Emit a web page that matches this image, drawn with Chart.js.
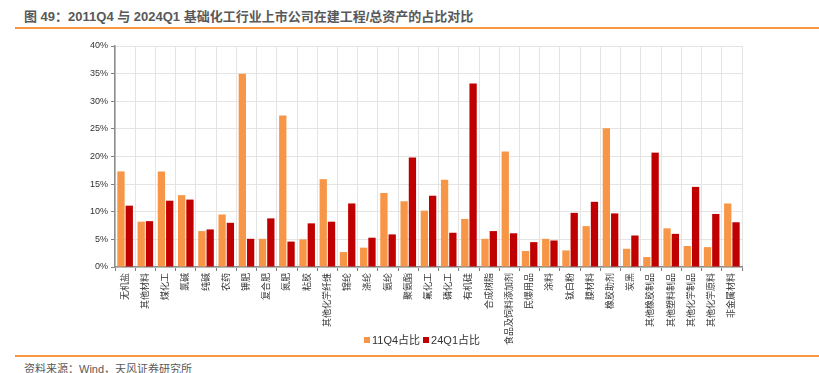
<!DOCTYPE html>
<html>
<head>
<meta charset="utf-8">
<script src="https://cdn.jsdelivr.net/npm/chart.js@4.4.1/dist/chart.umd.min.js"></script>
<style>
  html, body { margin: 0; padding: 0; background: #fff; }
  body { width: 819px; height: 373px; position: relative; overflow: hidden;
         font-family: "Liberation Sans", Arial, "Noto Sans CJK SC", sans-serif; }
  .title { position: absolute; left: 24px; top: 6px; font-size: 13px; font-weight: bold; color: #595959; white-space: nowrap; }
  .rule { position: absolute; left: 15px; right: 0; height: 2px; background: #F7963E; }
  .source { position: absolute; left: 24px; top: 360px; font-size: 11px; color: #595959; white-space: nowrap; }
  .wrap { position: absolute; left: 0; top: 36px; width: 819px; height: 316px; }
  .legend { position: absolute; left: 364px; top: 332px; font-size: 11px; color: #333; white-space: nowrap; line-height: 16px; }
  .legend span.box { display: inline-block; width: 6px; height: 6px; margin-right: 2px; vertical-align: 1px; }
  .legend span.item { margin-right: 3px; }
</style>
</head>
<body>
<div class="title">图 49：2011Q4 与 2024Q1 基础化工行业上市公司在建工程/总资产的占比对比</div>
<div class="rule" style="top:27px"></div>
<div class="wrap"><canvas id="chart"></canvas></div>
<div class="legend" id="legend"></div>
<div class="rule" style="top:355px"></div>
<div class="source">资料来源：Wind，天风证券研究所</div>

<script>
// ============================================
// DATA
// ============================================
const categories = [
    '无机盐', '其他材料', '煤化工', '氯碱', '纯碱', '农药', '钾肥', '复合肥', '氮肥', '粘胶',
    '其他化学纤维', '锦纶', '涤纶', '氨纶', '聚氨酯', '氟化工', '磷化工', '有机硅', '合成树脂',
    '食品及饲料添加剂', '民爆用品', '涂料', '钛白粉', '膜材料', '橡胶助剂', '炭黑',
    '其他橡胶制品', '其他塑料制品', '其他化学制品', '其他化学原料', '非金属材料'
];

const seriesNames = ['11Q4占比', '24Q1占比'];
const seriesColors = ['#F79646', '#C00000'];

// percent values
const share11Q4 = [
    17.3, 8.2, 17.3, 13.0, 6.5, 9.5, 35.0, 5.1, 27.4, 5.0,
    15.9, 2.7, 3.5, 13.4, 11.9, 10.2, 15.8, 8.7, 5.1,
    20.9, 2.9, 5.1, 3.0, 7.4, 25.1, 3.3,
    1.8, 7.0, 3.8, 3.6, 11.5
];

const share24Q1 = [
    11.1, 8.3, 12.0, 12.2, 6.8, 8.0, 5.1, 8.8, 4.6, 7.9,
    8.2, 11.5, 5.3, 5.9, 19.8, 12.9, 6.2, 33.2, 6.5,
    6.1, 4.5, 4.8, 9.8, 11.8, 9.7, 5.7,
    20.7, 6.0, 14.5, 9.6, 8.1
];

const yTicks = [0, 5, 10, 15, 20, 25, 30, 35, 40];

// ============================================
// RENDER CHART
// ============================================
const FONT = '"Liberation Sans", Arial, "Noto Sans CJK SC", sans-serif';

const ctx = document.getElementById('chart').getContext('2d');
const chart = new Chart(ctx, {
    type: 'bar',
    data: {
        labels: categories,
        datasets: [{
            label: seriesNames[0],
            data: share11Q4,
            backgroundColor: seriesColors[0],
            borderWidth: 0
        }, {
            label: seriesNames[1],
            data: share24Q1,
            backgroundColor: seriesColors[1],
            borderWidth: 0
        }]
    },
    options: {
        responsive: true,
        maintainAspectRatio: false,
        animation: false,
        categoryPercentage: 0.82,
        barPercentage: 0.88,
        layout: {
            padding: { top: 10, right: 77, left: 0, bottom: 0 }
        },
        scales: {
            x: {
                grid: { color: '#E4E4E4', offset: true, tickLength: 4, tickColor: '#808080' },
                border: { color: '#8C8C8C', width: 1.5 },
                ticks: {
                    autoSkip: false,
                    maxRotation: 90,
                    minRotation: 90,
                    padding: 2,
                    color: '#333',
                    font: { size: 9, family: FONT }
                },
                afterFit: function(scale) { scale.height = 85; }
            },
            y: {
                min: 0,
                max: 40,
                afterBuildTicks: function(scale) {
                    scale.ticks = yTicks.map(v => ({ value: v }));
                },
                grid: { color: '#E4E4E4', tickLength: 4, tickColor: '#808080' },
                border: { color: '#8C8C8C', width: 1.5 },
                ticks: {
                    padding: 3,
                    color: '#333',
                    font: { size: 9, family: FONT },
                    callback: v => v + '%'
                },
                afterFit: function(scale) { scale.width = 115; }
            }
        },
        plugins: {
            legend: { display: false },
            tooltip: { enabled: false }
        }
    }
});

// legend (built from the datasets)
document.getElementById('legend').innerHTML = chart.data.datasets.map(ds =>
    `<span class="item"><span class="box" style="background:${ds.backgroundColor}"></span>${ds.label}</span>`
).join('');
</script>
</body>
</html>
